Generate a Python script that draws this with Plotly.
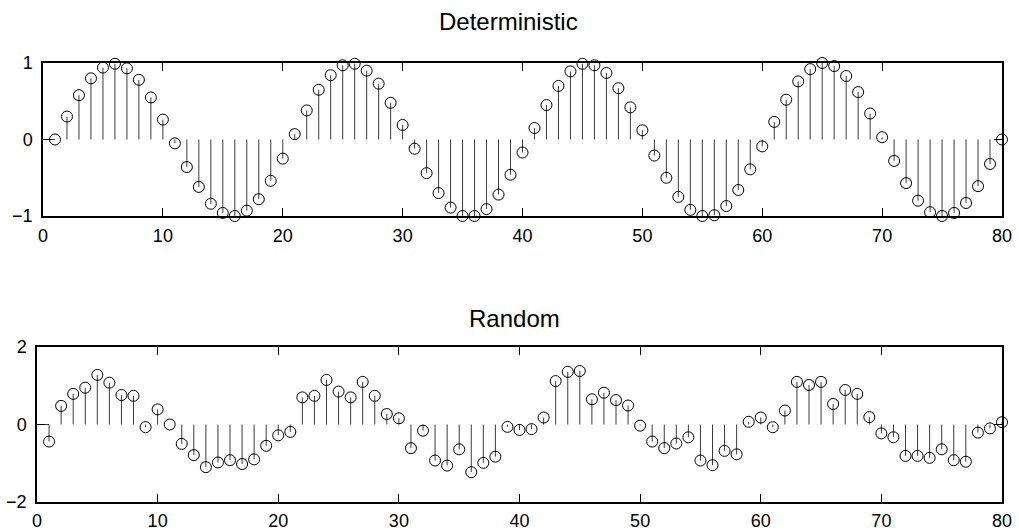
import plotly.graph_objects as go

n = list(range(1, 81))

deterministic = [
    0.00, 0.30, 0.58, 0.80, 0.94, 0.99, 0.93, 0.78, 0.55, 0.26,
    -0.05, -0.36, -0.62, -0.84, -0.96, -1.00, -0.93, -0.78, -0.54, -0.25,
    0.07, 0.38, 0.65, 0.84, 0.97, 0.99, 0.90, 0.73, 0.48, 0.19,
    -0.12, -0.44, -0.70, -0.89, -1.00, -1.00, -0.91, -0.72, -0.46, -0.17,
    0.15, 0.45, 0.70, 0.89, 0.99, 0.97, 0.87, 0.67, 0.42, 0.12,
    -0.21, -0.50, -0.75, -0.92, -1.00, -0.99, -0.87, -0.66, -0.39, -0.09,
    0.23, 0.52, 0.76, 0.92, 1.00, 0.96, 0.83, 0.62, 0.34, 0.03,
    -0.28, -0.57, -0.80, -0.95, -1.00, -0.96, -0.83, -0.61, -0.32, 0.00,
]

random_vals = [
    -0.44, 0.48, 0.79, 0.95, 1.28, 1.08, 0.76, 0.74, -0.07, 0.39,
    0.00, -0.50, -0.79, -1.10, -0.98, -0.92, -1.02, -0.90, -0.55, -0.28,
    -0.19, 0.70, 0.74, 1.15, 0.85, 0.70, 1.10, 0.74, 0.27, 0.16,
    -0.61, -0.16, -0.93, -1.06, -0.64, -1.23, -0.99, -0.83, -0.06, -0.14,
    -0.12, 0.18, 1.12, 1.36, 1.38, 0.65, 0.82, 0.63, 0.49, -0.03,
    -0.44, -0.61, -0.49, -0.33, -0.93, -1.05, -0.68, -0.77, 0.07, 0.18,
    -0.07, 0.36, 1.10, 1.02, 1.10, 0.53, 0.89, 0.79, 0.19, -0.23,
    -0.33, -0.81, -0.81, -0.86, -0.64, -0.92, -0.96, -0.21, -0.10, 0.06,
]

x_ticks = [0, 10, 20, 30, 40, 50, 60, 70, 80]
top_yticks = [-1, 0, 1]
bottom_yticks = [-2, 0, 2]
x_range = [0, 80]

STEM = "#3a3a3a"
FONT = "Liberation Sans, Arial, Helvetica, sans-serif"


def stem_xy(xs, ys):
    sx, sy = [], []
    for a, b in zip(xs, ys):
        sx += [a, a, None]
        sy += [0, b, None]
    return sx, sy


fig = go.Figure()

for vals, xa, ya in [(deterministic, "x", "y"), (random_vals, "x2", "y2")]:
    sx, sy = stem_xy(n, vals)
    # baseline from axis start to first sample
    fig.add_trace(go.Scatter(x=[x_range[0], n[0]], y=[0, 0], mode="lines",
                             line=dict(color=STEM, width=1), xaxis=xa, yaxis=ya,
                             showlegend=False, hoverinfo="skip", cliponaxis=False))
    fig.add_trace(go.Scatter(x=sx, y=sy, mode="lines",
                             line=dict(color=STEM, width=1), xaxis=xa, yaxis=ya,
                             showlegend=False, hoverinfo="skip", cliponaxis=False))
    fig.add_trace(go.Scatter(x=n, y=vals, mode="markers",
                             marker=dict(symbol="circle-open", size=11,
                                         color="black", line=dict(width=1, color="black")),
                             xaxis=xa, yaxis=ya, showlegend=False, cliponaxis=False))

axis_common = dict(showline=True, linecolor="black", linewidth=1.5, mirror="ticks",
                   ticks="inside", ticklen=8, tickcolor="black", tickwidth=1,
                   showgrid=False, zeroline=False,
                   tickfont=dict(family=FONT, size=18, color="black"),
                   automargin=False)

fig.update_layout(
    width=1019, height=532,
    margin=dict(l=0, r=0, t=0, b=0),
    paper_bgcolor="white", plot_bgcolor="white",
    xaxis=dict(domain=[43 / 1019, 1002 / 1019], range=x_range, tickvals=x_ticks,
               anchor="y", ticklabelstandoff=3, **axis_common),
    yaxis=dict(domain=[1 - 216 / 532, 1 - 63 / 532], range=[-1, 1], tickvals=top_yticks,
               anchor="x", ticklabelstandoff=5, **axis_common),
    xaxis2=dict(domain=[37 / 1019, 1002 / 1019], range=x_range, tickvals=x_ticks,
                anchor="y2", ticklabelstandoff=2, **axis_common),
    yaxis2=dict(domain=[1 - 502 / 532, 1 - 347 / 532], range=[-2, 2], tickvals=bottom_yticks,
                anchor="x2", ticklabelstandoff=5, **axis_common),
    annotations=[
        dict(text="Deterministic", x=508 / 1019, y=1 - 22 / 532, xref="paper", yref="paper",
             xanchor="center", yanchor="middle", showarrow=False,
             font=dict(family=FONT, size=24, color="black")),
        dict(text="Random", x=514 / 1019, y=1 - 318 / 532, xref="paper", yref="paper",
             xanchor="center", yanchor="middle", showarrow=False,
             font=dict(family=FONT, size=24, color="black")),
    ],
)

fig.write_html("out.html", config={"displayModeBar": False},
               post_script="document.body.style.margin='0px';document.body.style.overflow='hidden';")
